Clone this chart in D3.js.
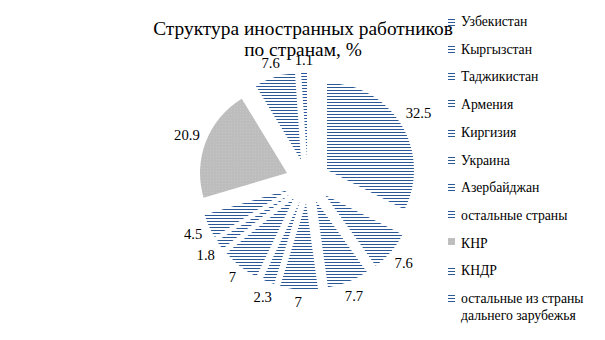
<!DOCTYPE html>
<html>
<head>
<meta charset="utf-8">
<script src="https://cdn.jsdelivr.net/npm/d3@7"></script>
<style>
  html, body { margin: 0; padding: 0; background: #fff; }
  svg { display: block; }
  text { font-family: "Liberation Serif", "Times New Roman", serif; fill: #000; }
</style>
</head>
<body>
<svg id="chart" width="605" height="340"></svg>
<script>
// Share of foreign workers by country, %
const countries = [
  "Узбекистан", "Кыргызстан", "Таджикистан", "Армения", "Киргизия",
  "Украина", "Азербайджан", "остальные страны", "КНР", "КНДР",
  "остальные из страны дальнего зарубежья"
];
const shares = [32.5, 7.6, 7.7, 7, 2.3, 7, 1.8, 4.5, 20.9, 7.6, 1.1];
const legendLines = [
  ["Узбекистан"], ["Кыргызстан"], ["Таджикистан"], ["Армения"], ["Киргизия"],
  ["Украина"], ["Азербайджан"], ["остальные страны"], ["КНР"], ["КНДР"],
  ["остальные из страны", "дальнего зарубежья"]
];
const fillKind = ["hatch", "hatch", "hatch", "hatch", "hatch", "hatch", "hatch", "hatch", "grey", "hatch", "hatch"];
const titleLines = ["Структура иностранных работников", "по странам, %"];

const serif = "'Liberation Serif', 'Times New Roman', serif";
const svg = d3.select("#chart");
const blue = "#2b5897";

// fills: horizontal line hatch (1px line every 3px) and a light grey dotted fill
const defs = svg.append("defs");
const hatch = defs.append("pattern")
  .attr("id", "hatch").attr("patternUnits", "userSpaceOnUse")
  .attr("width", 6).attr("height", 3);
hatch.append("rect").attr("width", 6).attr("height", 3).attr("fill", "#fff");
hatch.append("rect").attr("y", 1).attr("width", 6).attr("height", 1)
  .attr("fill", blue).attr("shape-rendering", "crispEdges");

const grey = defs.append("pattern")
  .attr("id", "grey").attr("patternUnits", "userSpaceOnUse")
  .attr("width", 3).attr("height", 3);
grey.append("rect").attr("width", 3).attr("height", 3).attr("fill", "#bdbdbd");
grey.append("rect").attr("x", 1).attr("y", 1).attr("width", 1).attr("height", 1).attr("fill", "#c6c6c6");

const fillOf = k => k === "grey" ? "url(#grey)" : "url(#hatch)";

// title
const title = svg.append("text").attr("text-anchor", "middle")
  .style("font-family", serif).style("font-size", "19.4px");
titleLines.forEach((t, i) => {
  title.append("tspan").attr("x", 303).attr("y", 35 + i * 20.5).text(t);
});

// exploded pie; slice offsets are snapped to whole pixels so the hatch stays crisp
const cx = 308, cy = 181, R = 87, explode = 22;
const pie = d3.pie().sort(null).value(d => d).startAngle(0).endAngle(2 * Math.PI);
const arcs = pie(shares);
const arc = d3.arc().innerRadius(0).outerRadius(R);

const g = svg.append("g").attr("transform", `translate(${cx},${cy})`);
const slices = g.selectAll("g.slice").data(arcs).join("g").attr("class", "slice")
  .attr("transform", d => {
    const a = (d.startAngle + d.endAngle) / 2;
    return `translate(${Math.round(explode * Math.sin(a))},${Math.round(-explode * Math.cos(a))})`;
  });
slices.append("path")
  .attr("d", arc)
  .attr("fill", (d, i) => fillOf(fillKind[i]));

// value labels just outside each slice
const labelSize = 14.7, digitH = 10, gap = 7;
g.selectAll("text.val").data(arcs).join("text").attr("class", "val")
  .style("font-family", serif)
  .style("font-size", labelSize + "px")
  .attr("text-anchor", "middle")
  .attr("dy", "0.35em")
  .text(d => String(d.data))
  .each(function (d) {
    const a = (d.startAngle + d.endAngle) / 2;
    const sx = Math.sin(a), sy = -Math.cos(a);
    const w = this.getComputedTextLength();
    const r = explode + R + gap + Math.abs(sx) * w / 2 + Math.abs(sy) * digitH / 2;
    d3.select(this).attr("x", r * sx).attr("y", r * sy);
  });

// legend: swatches snapped to the hatch grid so each shows three lines
const legY0 = 21.3, legStep = 27.7;
const legend = svg.append("g");
const leg = legend.selectAll("g").data(countries).join("g");
leg.append("rect")
  .attr("x", 448)
  .attr("y", (d, i) => 3 * Math.round((legY0 + i * legStep - 4.5) / 3) + 1)
  .attr("width", 7).attr("height", 7)
  .attr("fill", (d, i) => fillOf(fillKind[i]));
leg.append("text")
  .style("font-family", serif)
  .style("font-size", "13.7px")
  .each(function (d, i) {
    const y = legY0 + i * legStep;
    legendLines[i].forEach((line, j) => {
      d3.select(this).append("tspan").attr("x", 461).attr("y", y + j * 17).attr("dy", "0.35em").text(line);
    });
  });
</script>
</body>
</html>
